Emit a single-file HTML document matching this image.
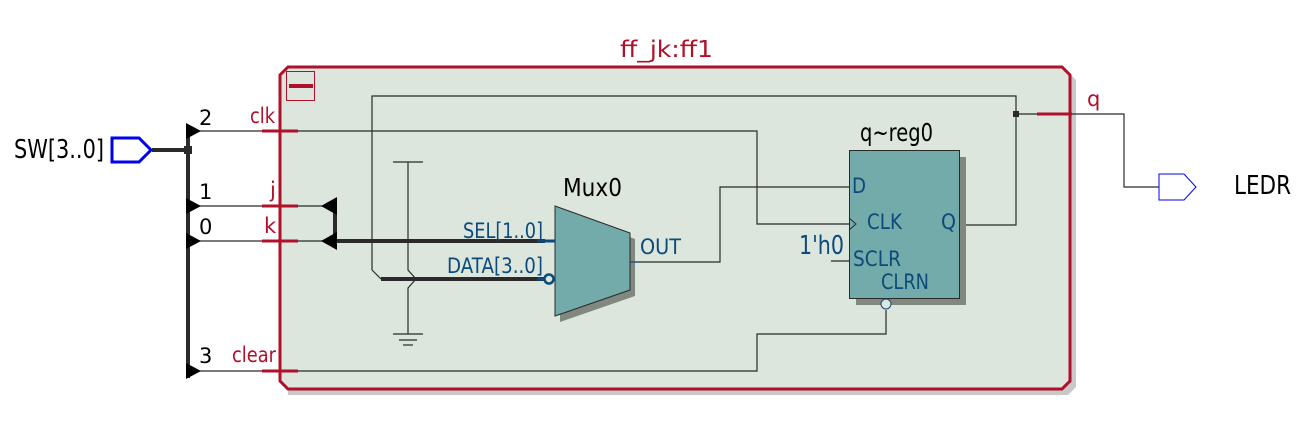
<!DOCTYPE html>
<html><head><meta charset="utf-8"><style>
html,body{margin:0;padding:0;background:#fff;}
svg{display:block;}
text{font-family:"DejaVu Sans","Liberation Sans",sans-serif;}
</style></head><body>
<svg width="1307" height="439" viewBox="0 0 1307 439" xmlns="http://www.w3.org/2000/svg">
<path d="M288,72 L1068,72 L1076,80 L1076,387 L1068,395 L288,395 Z" fill="#c8c8c8"/>
<path d="M288,67 L1062,67 L1070,75 L1070,381 L1062,389 L288,389 L280,381 L280,75 Z" fill="#dde6dd" stroke="#b0102a" stroke-width="3"/>
<rect x="286.5" y="71.5" width="28" height="29" fill="none" stroke="#b0102a" stroke-width="1"/>
<rect x="289" y="84" width="24" height="4" fill="#b0102a"/>
<text x="620" y="57" font-size="23" fill="#b0102a" textLength="93" lengthAdjust="spacingAndGlyphs">ff_jk:ff1</text>

<g stroke="#2a2a2a" stroke-width="1.2" fill="none">
<polyline points="372,270 372,96 1016,96 1016,225 960,225"/>
<polyline points="372,270 381,279"/>
<polyline points="1016,114 1124,114 1124,187 1159,187"/>
<polyline points="190,131 757,131 757,224 849,224"/>
<polyline points="190,371 757,371 757,334 886,334 886,310"/>
<line x1="190" y1="206" x2="324" y2="206"/>
<line x1="190" y1="241" x2="324" y2="241"/>
<polyline points="630,262 720,262 720,187 849,187"/>
<line x1="831" y1="261" x2="849" y2="261"/>
<polyline points="408,162 408,270 416,279 408,288 408,334"/>
<line x1="393" y1="162" x2="423" y2="162"/>
<line x1="393" y1="334" x2="423" y2="334"/>
<line x1="399" y1="340" x2="417" y2="340"/>
<line x1="403" y1="345" x2="413" y2="345"/>
</g>
<rect x="1013" y="111" width="6" height="6" fill="#2a2a2a"/>

<g stroke="#2a2a2a" stroke-width="4" fill="none">
<line x1="152" y1="150" x2="188" y2="150"/>
<line x1="188" y1="125" x2="188" y2="378"/>
<polyline points="335,206 335,241 545,241"/>
<line x1="381" y1="279" x2="545" y2="279"/>
</g>
<rect x="184" y="146" width="8" height="8" fill="#2a2a2a"/>
<g fill="#000">
<polygon points="186,123 201,131 186,139"/>
<polygon points="186,198 201,206 186,214"/>
<polygon points="186,233 201,241 186,249"/>
<polygon points="186,363 201,371 186,379"/>
<polygon points="337,197 321,206 337,215"/>
<polygon points="337,232 321,241 337,250"/>
</g>
<g stroke="#b0102a" stroke-width="3">
<line x1="262" y1="131" x2="298" y2="131"/>
<line x1="262" y1="206" x2="298" y2="206"/>
<line x1="262" y1="241" x2="298" y2="241"/>
<line x1="262" y1="371" x2="298" y2="371"/>
<line x1="1037" y1="114" x2="1072" y2="114"/>
</g>
<g font-size="21" fill="#000">
<text x="199" y="125">2</text><text x="199" y="199">1</text><text x="199" y="234">0</text><text x="199" y="363">3</text>
</g>
<g font-size="21" fill="#b0102a">
<text x="250" y="123" textLength="25" lengthAdjust="spacingAndGlyphs">clk</text>
<text x="270" y="197">j</text>
<text x="264" y="233">k</text>
<text x="232" y="362" textLength="44" lengthAdjust="spacingAndGlyphs">clear</text>
<text x="1087" y="106">q</text>
</g>

<polygon points="112,138 139,138 151,150 139,162 112,162" fill="none" stroke="#0000ee" stroke-width="3"/>
<text x="14" y="158" font-size="26" fill="#000" textLength="90" lengthAdjust="spacingAndGlyphs">SW[3..0]</text>
<polygon points="1159,174 1184,174 1196,187 1184,200 1159,200" fill="#fff" stroke="#0000ee" stroke-width="1"/>
<text x="1234" y="194" font-size="26" fill="#000" textLength="57" lengthAdjust="spacingAndGlyphs">LEDR</text>

<polygon points="560,212 635,239 635,296 560,322" fill="#808880"/>
<polygon points="555,206 630,233 630,290 555,316" fill="#73abab" stroke="#2a2a2a" stroke-width="1"/>
<line x1="537" y1="241" x2="555" y2="241" stroke="#0b4a7a" stroke-width="3"/>
<line x1="537" y1="279" x2="545" y2="279" stroke="#0b4a7a" stroke-width="3"/>
<circle cx="549" cy="279" r="4.5" fill="#dde6dd" stroke="#0b4a7a" stroke-width="2.5"/>
<line x1="630" y1="262" x2="640" y2="262" stroke="#0b4a7a" stroke-width="1.2"/>
<text x="563" y="196" font-size="25" fill="#000" textLength="59" lengthAdjust="spacingAndGlyphs">Mux0</text>
<g font-size="21" fill="#0b4a7a">
<text x="463" y="238" textLength="80" lengthAdjust="spacingAndGlyphs">SEL[1..0]</text>
<text x="447" y="273" textLength="96" lengthAdjust="spacingAndGlyphs">DATA[3..0]</text>
<text x="640" y="254" textLength="41" lengthAdjust="spacingAndGlyphs">OUT</text>
</g>

<rect x="856" y="157" width="110" height="148" fill="#808880"/>
<rect x="849.5" y="150.5" width="110" height="148" fill="#73abab" stroke="#2a2a2a" stroke-width="1"/>
<polyline points="849,218 856,224 849,230" fill="none" stroke="#2a2a2a" stroke-width="1"/>
<circle cx="886" cy="304" r="5" fill="#dde6dd" stroke="#0b4a7a" stroke-width="1"/>
<text x="860" y="141" font-size="25" fill="#000" textLength="73" lengthAdjust="spacingAndGlyphs">q~reg0</text>
<g font-size="21" fill="#0b4a7a">
<text x="852" y="193" textLength="14" lengthAdjust="spacingAndGlyphs">D</text>
<text x="867" y="229" textLength="35" lengthAdjust="spacingAndGlyphs">CLK</text>
<text x="853" y="266" textLength="48" lengthAdjust="spacingAndGlyphs">SCLR</text>
<text x="881" y="289" textLength="48" lengthAdjust="spacingAndGlyphs">CLRN</text>
<text x="941" y="229" textLength="15" lengthAdjust="spacingAndGlyphs">Q</text>
<text x="799" y="254" font-size="26" textLength="45" lengthAdjust="spacingAndGlyphs">1'h0</text>
</g>
</svg>
</body></html>
